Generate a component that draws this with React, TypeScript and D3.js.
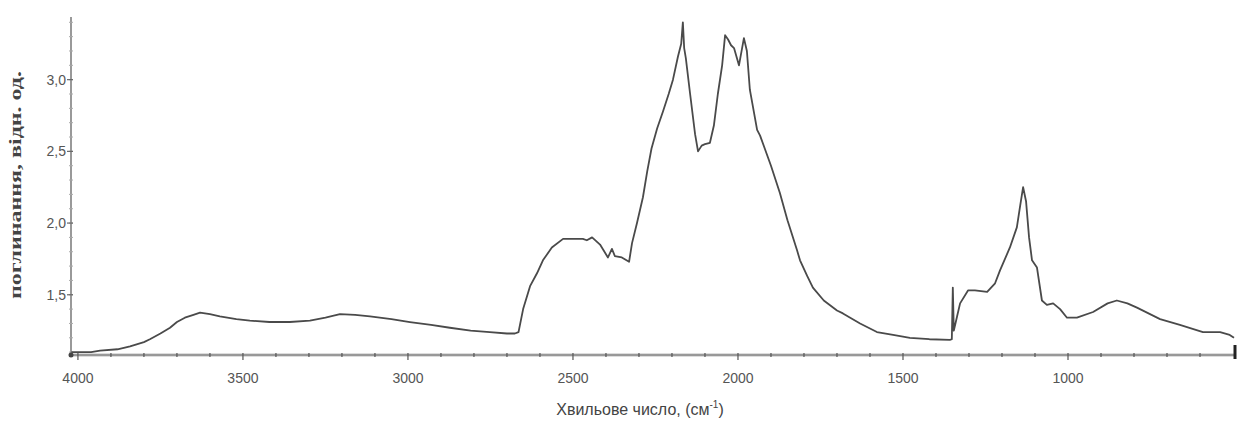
import * as d3 from 'd3';
import {useEffect, useRef} from 'react';

const width = 1240;
const height = 430;

// wavenumber (cm-1) and absorbance
const wavenumbers = [
  4020, 4000, 3960, 3933, 3880, 3842, 3800, 3782, 3750, 3721, 3700, 3676, 3650, 3630, 3600, 3570,
  3520, 3479, 3420, 3358, 3297, 3250, 3206, 3160, 3115, 3050, 2994, 2930, 2873, 2810, 2752, 2700,
  2676, 2665, 2651, 2630, 2609, 2591, 2564, 2530, 2500, 2470, 2458, 2442, 2418, 2394, 2382, 2373,
  2352, 2330, 2321, 2306, 2288, 2275, 2262, 2245, 2227, 2210, 2197, 2182, 2172, 2167, 2163, 2158,
  2145, 2130, 2121, 2110, 2100, 2085, 2073, 2061, 2048, 2039, 2030, 2021, 2012, 1997, 1982, 1973,
  1964, 1942, 1933, 1900, 1873, 1850, 1821, 1812, 1790, 1773, 1740, 1700, 1682, 1630, 1579, 1530,
  1479, 1420, 1358, 1352, 1349, 1346, 1336, 1327, 1303, 1282, 1245, 1221, 1206, 1176, 1155, 1145,
  1136, 1127, 1118, 1109, 1094, 1079, 1064, 1045, 1024, 1003, 973, 924, 880, 852, 820, 791,
  721, 661, 591, 539, 510, 497,
];
const absorbance = [
  1.1, 1.1, 1.1, 1.11, 1.12, 1.14, 1.17, 1.19, 1.23, 1.27, 1.31, 1.34, 1.36, 1.375, 1.365, 1.35,
  1.33, 1.32, 1.31, 1.31, 1.32, 1.34, 1.365, 1.36, 1.35, 1.33, 1.31, 1.29, 1.27, 1.25, 1.24, 1.23,
  1.23, 1.24, 1.4, 1.56, 1.65, 1.74, 1.83, 1.89, 1.89, 1.89, 1.88, 1.9, 1.85, 1.76, 1.82, 1.77,
  1.76, 1.73, 1.86, 2.0, 2.18, 2.36, 2.52, 2.66, 2.78, 2.9, 3.0, 3.16, 3.25, 3.4, 3.22, 3.15,
  2.9, 2.62, 2.5, 2.54, 2.55, 2.56, 2.68, 2.9, 3.1, 3.31, 3.28, 3.24, 3.22, 3.1, 3.29, 3.2,
  2.93, 2.65, 2.61, 2.4, 2.21, 2.02, 1.81, 1.74, 1.63, 1.55, 1.46, 1.39, 1.37, 1.3, 1.24, 1.22,
  1.2, 1.19, 1.185, 1.19, 1.55, 1.25, 1.35, 1.44, 1.53, 1.53, 1.52, 1.58, 1.67, 1.83, 1.97, 2.12,
  2.25, 2.15, 1.9, 1.74, 1.69, 1.46, 1.43, 1.44, 1.4, 1.34, 1.34, 1.38, 1.44, 1.46, 1.44, 1.41,
  1.33, 1.29, 1.24, 1.24, 1.22, 1.2,
];

const xTicks = [4000, 3500, 3000, 2500, 2000, 1500, 1000];
const yTicks = [1.5, 2.0, 2.5, 3.0];
const yTitle = 'поглинання, відн. од.';
const xTitle = 'Хвильове число, (см';

function Spectrum() {
  const ref = useRef<HTMLDivElement>(null);

  useEffect(() => {
    const data = wavenumbers.map((w, i) => [w, absorbance[i]] as [number, number]);

    const x = d3.scaleLinear().domain([4021, 497]).range([71, 1234]);
    const y = d3.scaleLinear().domain([1.08, 3.43]).range([355, 18]);

    const svg = d3
      .select(ref.current)
      .append('svg')
      .attr('width', width)
      .attr('height', height)
      .style('position', 'absolute')
      .style('left', 0)
      .style('top', 0)
      .style('background', '#fff');

    const grey = '#777';
    const label = "'Liberation Sans Narrow', 'Liberation Sans', sans-serif";

    // x axis: thick grey rule with minor ticks every 100
    const xa = svg.append('g');
    xa.append('line')
      .attr('x1', 71).attr('x2', 1236)
      .attr('y1', 355).attr('y2', 355)
      .attr('stroke', '#bbb').attr('stroke-width', 3);
    xa.append('line')
      .attr('x1', 71).attr('x2', 1236)
      .attr('y1', 355).attr('y2', 355)
      .attr('stroke', grey).attr('stroke-width', 1);
    xa.selectAll('line.minor')
      .data(d3.range(4000, 500, -100))
      .join('line')
      .attr('class', 'minor')
      .attr('x1', d => x(d)).attr('x2', d => x(d))
      .attr('y1', 353).attr('y2', d => (d % 500 === 0 ? 360 : 357))
      .attr('stroke', '#555').attr('stroke-width', 1.2);
    xa.selectAll('text')
      .data(xTicks)
      .join('text')
      .attr('x', d => x(d))
      .attr('y', 383)
      .attr('text-anchor', 'middle')
      .attr('font-family', label)
      .attr('font-size', 14)
      .attr('fill', '#555')
      .text(d => d);
    xa.append('line')
      .attr('x1', 1235).attr('x2', 1235)
      .attr('y1', 345).attr('y2', 359)
      .attr('stroke', '#222').attr('stroke-width', 3);

    // y axis
    const ya = svg.append('g');
    ya.append('line')
      .attr('x1', 71).attr('x2', 71)
      .attr('y1', 17).attr('y2', 356)
      .attr('stroke', grey).attr('stroke-width', 1.5);
    ya.selectAll('line.minor')
      .data(d3.range(1.1, 3.45, 0.1))
      .join('line')
      .attr('class', 'minor')
      .attr('x1', 69).attr('x2', 73)
      .attr('y1', d => y(d)).attr('y2', d => y(d))
      .attr('stroke', '#aaa').attr('stroke-width', 1);
    ya.selectAll('line.major')
      .data(yTicks)
      .join('line')
      .attr('class', 'major')
      .attr('x1', 67).attr('x2', 73)
      .attr('y1', d => y(d)).attr('y2', d => y(d))
      .attr('stroke', '#666').attr('stroke-width', 1.2);
    ya.selectAll('text')
      .data(yTicks)
      .join('text')
      .attr('x', 66)
      .attr('y', d => y(d) + 5)
      .attr('text-anchor', 'end')
      .attr('font-family', label)
      .attr('font-size', 14)
      .attr('fill', '#555')
      .text(d => d.toFixed(1).replace('.', ','));
    ya.append('circle').attr('cx', 71).attr('cy', 355).attr('r', 2.5).attr('fill', '#444');

    svg.append('text')
      .attr('transform', 'translate(21,185) rotate(-90)')
      .attr('text-anchor', 'middle')
      .attr('font-family', "'Liberation Serif', serif")
      .attr('font-weight', 'bold')
      .attr('font-size', 17)
      .attr('fill', '#444')
      .attr('textLength', 228)
      .attr('lengthAdjust', 'spacingAndGlyphs')
      .text(yTitle);

    const xt = svg.append('text')
      .attr('x', 640)
      .attr('y', 415)
      .attr('text-anchor', 'middle')
      .attr('font-family', "'Liberation Sans', sans-serif")
      .attr('font-size', 16)
      .attr('fill', '#444');
    xt.append('tspan').text(xTitle);
    xt.append('tspan').attr('dy', -7).attr('font-size', 10).text('-1');
    xt.append('tspan').attr('dy', 7).text(')');

    const line = d3
      .line<[number, number]>()
      .x(d => x(d[0]))
      .y(d => y(d[1]));

    svg.append('path')
      .datum(data)
      .attr('fill', 'none')
      .attr('stroke', '#4a4a4a')
      .attr('stroke-width', 1.8)
      .attr('stroke-linejoin', 'round')
      .attr('d', line);

    return () => {
      svg.remove();
    };
  }, []);

  return <div ref={ref}></div>;
}

export default function App() {
  return <Spectrum />;
}
